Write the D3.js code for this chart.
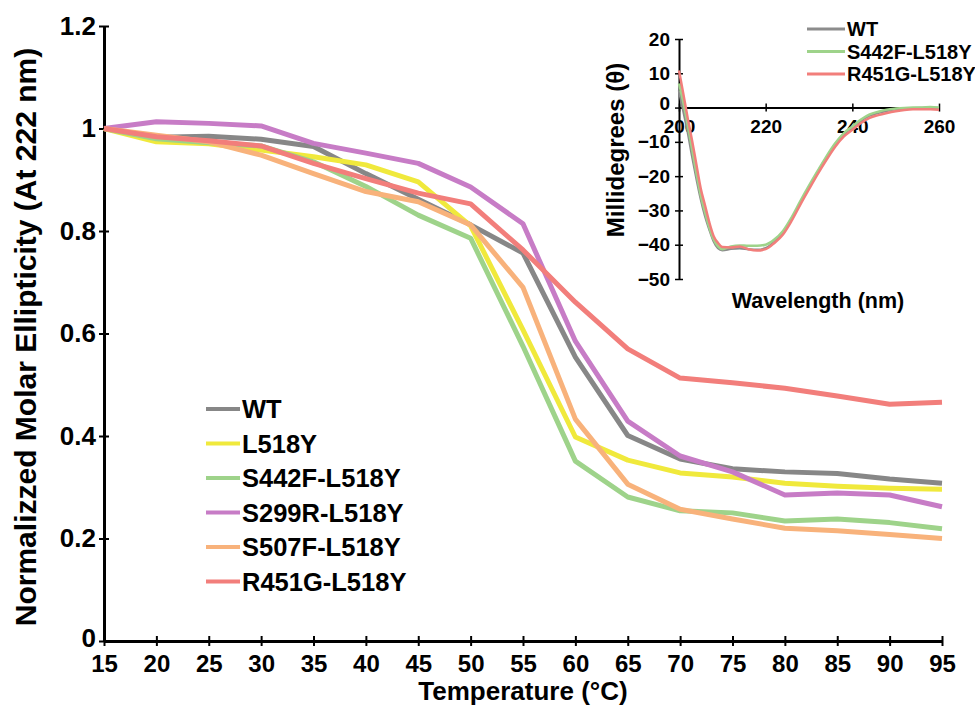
<!DOCTYPE html>
<html>
<head>
<meta charset="utf-8">
<script src="https://cdn.jsdelivr.net/npm/d3@7"></script>
<style>
  body { margin: 0; background: #fff; }
  text { font-family: "Liberation Sans", Arial, sans-serif; font-weight: bold; fill: #000; }
</style>
</head>
<body>
<div id="chart"></div>
<script>
// main melt curves
const temps = [15,20,25,30,35,40,45,50,55,60,65,70,75,80,85,90,95];
const seriesNames = ["WT","L518Y","S442F-L518Y","S299R-L518Y","S507F-L518Y","R451G-L518Y"];
const wtVals    = [1,0.983,0.985,0.979,0.965,0.912,0.862,0.812,0.757,0.554,0.401,0.355,0.336,0.330,0.327,0.316,0.308];
const l518yVals = [1,0.974,0.970,0.958,0.945,0.929,0.896,0.810,0.607,0.398,0.353,0.328,0.320,0.308,0.302,0.298,0.296];
const s442fVals = [1,0.980,0.972,0.966,0.935,0.887,0.831,0.786,0.575,0.351,0.281,0.254,0.250,0.234,0.238,0.231,0.219];
const s299rVals = [1,1.013,1.010,1.005,0.971,0.952,0.932,0.886,0.814,0.585,0.429,0.361,0.330,0.285,0.289,0.285,0.262];
const s507fVals = [1,0.987,0.974,0.948,0.912,0.877,0.857,0.812,0.690,0.433,0.306,0.257,0.238,0.220,0.215,0.208,0.200];
const r451gVals = [1,0.984,0.976,0.966,0.932,0.902,0.874,0.853,0.763,0.661,0.570,0.513,0.504,0.493,0.478,0.462,0.466];
const mainColors = ["#878787","#f0e93c","#9ed38a","#c77cc6","#f8b27b","#f27e7b"];
const yTicks = [0,0.2,0.4,0.6,0.8,1,1.2];

// inset CD spectra
const waves = [200,201,202,203,204,205,206,207,208,209,210,212,214,216,218,220,222,224,226,228,230,232,234,236,238,240,242,244,246,248,250,252,254,256,258,260];
const insetNames = ["WT","S442F-L518Y","R451G-L518Y"];
const cdWT    = [5,-1,-7,-14,-20.5,-26.5,-31.5,-35.5,-39,-41,-41.6,-41.2,-41,-41.3,-41.5,-41,-39.2,-36.5,-32.5,-27.8,-23.2,-18.8,-14.7,-11,-7.8,-5.8,-3.8,-2.3,-1.5,-0.9,-0.5,-0.3,-0.2,-0.1,0,-0.2];
const cdS442F = [7,1.5,-5,-12,-19,-25.5,-30.5,-35,-38.5,-40.5,-41.3,-40.5,-40.2,-40.3,-40.3,-40,-38.5,-36,-32,-27.3,-22.8,-18.5,-14.3,-10.5,-7.5,-5.5,-3.5,-2,-1.2,-0.6,-0.3,-0.1,0,0,0.2,0];
const cdR451G = [10.8,4,-3,-9.5,-16.5,-23.5,-28.5,-33.5,-37.5,-39.5,-40.7,-40.8,-40.5,-41.3,-41.7,-41.3,-39.5,-37,-33,-28.3,-23.8,-19.4,-15.3,-11.5,-8.5,-6.5,-4.5,-3,-2.2,-1.6,-1.1,-0.7,-0.5,-0.5,-0.5,-0.6];
const insetColors = ["#8c8c8c","#9ed38a","#f27e7b"];
const cdTicksY = [20,10,0,-10,-20,-30,-40,-50];
const cdTicksX = [200,220,240,260];

const W = 975, H = 726;
const svg = d3.select("#chart").append("svg").attr("width",W).attr("height",H);

const x = d3.scaleLinear().domain([15,95]).range([104,942]);
const y = d3.scaleLinear().domain([0,1.2]).range([641,26]);

const mainSeries = [wtVals,l518yVals,s442fVals,s299rVals,s507fVals,r451gVals];

// axes (cross ticks)
const xAxis = svg.append("g").attr("transform",`translate(0,${y(0)})`)
  .call(d3.axisBottom(x).tickValues(temps).tickSize(0).tickPadding(14).tickFormat(d3.format("d")));
xAxis.select(".domain").attr("stroke","#000").attr("stroke-width",3);
xAxis.selectAll(".tick line").attr("y1",-5).attr("y2",5).attr("stroke","#000").attr("stroke-width",2);
xAxis.selectAll(".tick text").attr("font-size",24).attr("dy","0.71em")
  .attr("font-family","'Liberation Sans', Arial, sans-serif").attr("font-weight","bold").attr("fill","#000");

const yAxis = svg.append("g").attr("transform",`translate(${x(15)},0)`)
  .call(d3.axisLeft(y).tickValues(yTicks).tickSize(0).tickPadding(8).tickFormat(d=>d3.format("")(+d.toFixed(1))));
yAxis.select(".domain").attr("stroke","#000").attr("stroke-width",3);
yAxis.selectAll(".tick line").attr("x1",-5).attr("x2",5).attr("stroke","#000").attr("stroke-width",2);
yAxis.selectAll(".tick text").attr("font-size",26)
  .attr("font-family","'Liberation Sans', Arial, sans-serif").attr("font-weight","bold").attr("fill","#000");
// lift the "0" label a bit so it clears the "15" below it
yAxis.selectAll(".tick text").filter(d=>d===0).attr("dy","0.2em");

// lines
const line = d3.line().x((d,i)=>x(temps[i])).y(d=>y(d));
svg.append("g").selectAll("path")
  .data(mainSeries)
  .enter().append("path")
  .attr("d",line)
  .attr("fill","none")
  .attr("stroke",(d,i)=>mainColors[i])
  .attr("stroke-width",5)
  .attr("stroke-linejoin","round");

// titles
svg.append("text").attr("transform",`translate(28,337) rotate(-90)`)
  .attr("text-anchor","middle").attr("dominant-baseline","middle").attr("font-size",30)
  .text("Normalizzed Molar Ellipticity (At 222 nm)");
svg.append("text").attr("x",523).attr("y",700).attr("text-anchor","middle").attr("font-size",26)
  .text("Temperature (°C)");

// legend
const leg = svg.append("g").selectAll("g").data(seriesNames).enter().append("g")
  .attr("transform",(d,i)=>`translate(206,${409+i*34.5})`);
leg.append("line").attr("x1",0).attr("x2",34).attr("stroke",(d,i)=>mainColors[i]).attr("stroke-width",4);
leg.append("text").attr("x",36).attr("dy","0.36em").attr("font-size",25.5).text(d=>d);

// inset
const ix = d3.scaleLinear().domain([200,260]).range([679,939]);
const iy = d3.scaleLinear().domain([-50,20]).range([279,39]);

const ixAxis = svg.append("g").attr("transform",`translate(0,${iy(0)})`)
  .call(d3.axisBottom(ix).tickValues(cdTicksX).tickSize(0).tickPadding(12));
ixAxis.select(".domain").attr("stroke","#000").attr("stroke-width",2);
ixAxis.selectAll(".tick line").attr("y1",-4).attr("y2",4).attr("stroke","#000").attr("stroke-width",1.5);
ixAxis.selectAll(".tick text").attr("font-size",19).attr("dy","0.71em")
  .attr("font-family","'Liberation Sans', Arial, sans-serif").attr("font-weight","bold").attr("fill","#000");

const iyAxis = svg.append("g").attr("transform",`translate(${ix(200)},0)`)
  .call(d3.axisLeft(iy).tickValues(cdTicksY).tickSize(0).tickPadding(9));
iyAxis.select(".domain").attr("stroke","#000").attr("stroke-width",2);
iyAxis.selectAll(".tick line").attr("x1",-4).attr("x2",4).attr("stroke","#000").attr("stroke-width",1.5);
iyAxis.selectAll(".tick text").attr("font-size",19)
  .attr("font-family","'Liberation Sans', Arial, sans-serif").attr("font-weight","bold").attr("fill","#000");
iyAxis.selectAll(".tick text").filter(d=>d===0).attr("dy","0.1em");

const cdSeries = [cdWT,cdS442F,cdR451G];
const cdLine = d3.line().x((d,i)=>ix(waves[i])).y(d=>iy(d)).curve(d3.curveMonotoneX);
svg.append("g").selectAll("path")
  .data(cdSeries)
  .enter().append("path")
  .attr("d",cdLine)
  .attr("fill","none")
  .attr("stroke",(d,i)=>insetColors[i])
  .attr("stroke-width",2.5);

svg.append("text").attr("transform",`translate(618,150) rotate(-90)`)
  .attr("text-anchor","middle").attr("dominant-baseline","middle").attr("font-size",24)
  .text("Millidegrees (θ)");
svg.append("text").attr("x",818).attr("y",308).attr("text-anchor","middle").attr("font-size",21.5)
  .text("Wavelength (nm)");

const ileg = svg.append("g").selectAll("g").data(insetNames).enter().append("g")
  .attr("transform",(d,i)=>`translate(807,${29+i*22.5})`);
ileg.append("line").attr("x1",0).attr("x2",38).attr("stroke",(d,i)=>insetColors[i]).attr("stroke-width",3);
ileg.append("text").attr("x",40).attr("dy","0.36em").attr("font-size",20).text(d=>d);
</script>
</body>
</html>
